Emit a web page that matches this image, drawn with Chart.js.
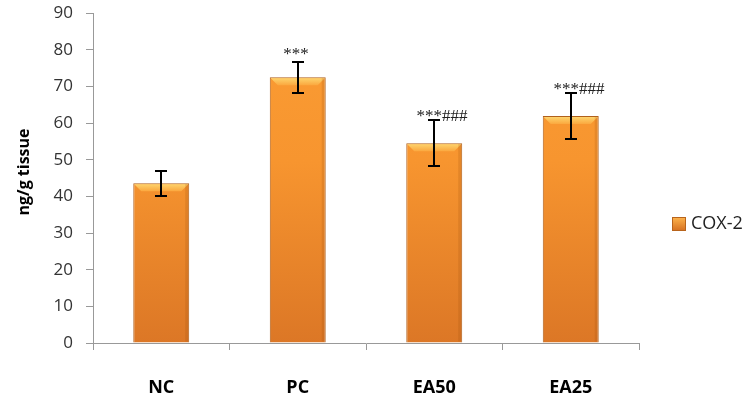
<!DOCTYPE html>
<html>
<head>
<meta charset="utf-8">
<script src="https://cdn.jsdelivr.net/npm/chart.js@4"></script>
<style>
  html, body { margin: 0; padding: 0; background: #fff; }
  #wrap { width: 754px; height: 403px; }
</style>
</head>
<body>
<div id="wrap"><canvas id="cox-chart" width="754" height="403"></canvas></div>
<script>
var groups = ["NC", "PC", "EA50", "EA25"];
var cox2 = [43.6, 72.5, 54.5, 61.9];
var errLow = [40.1, 68.2, 48.3, 55.6];
var errHigh = [46.9, 76.6, 60.8, 68.2];
var marks = ["", "***", "***###", "***###"];
var yTicks = [0, 10, 20, 30, 40, 50, 60, 70, 80, 90];

var font = "'Open Sans', 'Liberation Sans', sans-serif";

function barFill(ctx) {
    var area = ctx.chart.chartArea;
    if (!area) return "#f7952f";
    var g = ctx.chart.ctx.createLinearGradient(0, area.top, 0, area.bottom);
    g.addColorStop(0, "#fb9d34");
    g.addColorStop(0.45, "#f7952f");
    g.addColorStop(1, "#dc7726");
    return g;
}

// bevel, error bars and significance marks
var extras = {
    id: "extras",
    afterDatasetsDraw: function (chart) {
        var c = chart.ctx;
        var y = chart.scales.y;
        var meta = chart.getDatasetMeta(0);
        c.save();
        meta.data.forEach(function (bar) {
            var l = bar.x - bar.width / 2 + 1, r = bar.x + bar.width / 2 - 1, t = bar.y + 1;
            var g = c.createLinearGradient(0, t, 0, t + 7);
            g.addColorStop(0, "#fdd36c");
            g.addColorStop(1, "#fba83f");
            c.fillStyle = g;
            c.beginPath();
            c.moveTo(l, t); c.lineTo(r, t); c.lineTo(r - 7, t + 7); c.lineTo(l + 7, t + 7);
            c.closePath();
            c.fill();
            c.fillStyle = "rgba(150,70,10,0.18)";
            c.fillRect(r - 3, t, 3, bar.base - t - 1);
        });
        c.strokeStyle = "#000";
        c.lineWidth = 2;
        meta.data.forEach(function (bar, i) {
            var x = Math.round(bar.x);
            var t = Math.round(y.getPixelForValue(errHigh[i]));
            var b = Math.round(y.getPixelForValue(errLow[i]));
            c.beginPath();
            c.moveTo(x, t); c.lineTo(x, b);
            c.moveTo(x - 6, t); c.lineTo(x + 6, t);
            c.moveTo(x - 6, b); c.lineTo(x + 6, b);
            c.stroke();
            if (marks[i]) {
                c.fillStyle = "#222";
                c.font = "17px 'Liberation Serif', serif";
                c.textAlign = "center";
                c.textBaseline = "alphabetic";
                var long = marks[i].length > 3;
                c.fillText(marks[i], x + (long ? 8 : -2), t + (long ? 1 : -3));
            }
        });
        c.restore();
    },
    afterDraw: function (chart) {
        var c = chart.ctx;
        c.save();
        // legend
        var lx = 679, ly = 224;
        var g = c.createLinearGradient(0, ly - 6, 0, ly + 6);
        g.addColorStop(0, "#fbb04a");
        g.addColorStop(1, "#d87424");
        c.fillStyle = g;
        c.fillRect(lx - 6, ly - 6, 12, 12);
        c.strokeStyle = "#b8641c";
        c.lineWidth = 1;
        c.strokeRect(lx - 6.5, ly - 6.5, 13, 13);
        c.fillStyle = "#222";
        c.font = "18px " + font;
        c.textAlign = "left";
        c.textBaseline = "middle";
        c.fillText("COX-2", lx + 12, ly);
        // y title
        c.translate(24, 172);
        c.rotate(-Math.PI / 2);
        c.fillStyle = "#000";
        c.font = "bold 16px " + font;
        c.textAlign = "center";
        c.fillText("ng/g tissue", 0, 0);
        c.restore();
    }
};

new Chart(document.getElementById("cox-chart"), {
    type: "bar",
    data: {
        labels: groups,
        datasets: [{
            label: "COX-2",
            data: cox2,
            backgroundColor: barFill,
            borderColor: "#b0601c",
            borderWidth: 1,
            categoryPercentage: 0.41,
            barPercentage: 1
        }]
    },
    options: {
        responsive: false,
        animation: false,
        layout: { padding: { left: 0, right: 115, top: 13, bottom: 0 } },
        plugins: { legend: { display: false }, tooltip: { enabled: false } },
        scales: {
            x: {
                afterFit: function (axis) { axis.height = 60; },
                grid: { offset: true, drawOnChartArea: false, color: "#999", tickLength: 7 },
                border: { color: "#999" },
                ticks: { color: "#000", font: { family: font, size: 18, weight: "bold" }, padding: 27 }
            },
            y: {
                min: 0,
                max: 90,
                afterFit: function (axis) {
                    axis.width = 93;
                    axis.paddingTop = 0;
                    axis.paddingBottom = 0;
                },
                afterBuildTicks: function (axis) {
                    axis.ticks = yTicks.map(function (v) { return { value: v }; });
                },
                grid: { drawOnChartArea: false, color: "#999", tickLength: 7 },
                border: { color: "#999" },
                ticks: { color: "#333", font: { family: font, size: 17 }, padding: 13 }
            }
        }
    },
    plugins: [extras]
});
</script>
</body>
</html>
